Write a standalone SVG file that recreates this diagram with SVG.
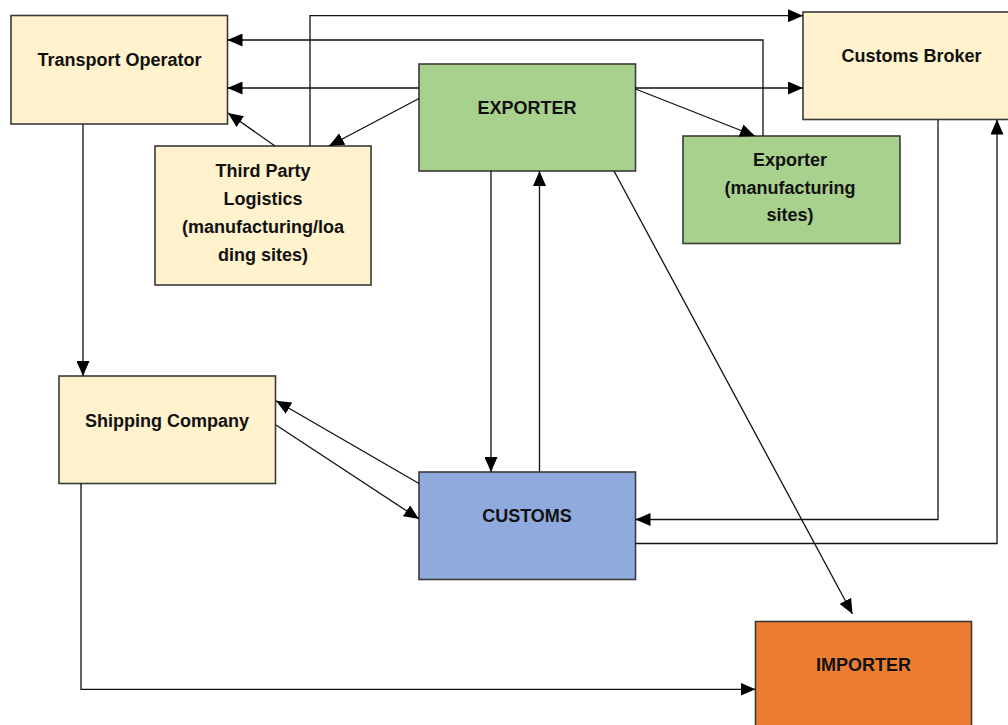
<svg xmlns="http://www.w3.org/2000/svg" width="1008" height="725" viewBox="0 0 1008 725">
<style>
.box{stroke:#3a3a3a;stroke-width:1.6}
.y{fill:#FFF2CC}.g{fill:#A9D18E}.b{fill:#8FAADC}.o{fill:#ED7D31}
text{font-family:"Liberation Sans",Arial,sans-serif;font-weight:bold;font-size:18px;fill:#111;text-anchor:middle}
.c path,.c line,.c polyline{fill:none;stroke:#111;stroke-width:1.3;marker-end:url(#ah)}
</style>
<defs>
<marker id="ah" markerWidth="15" markerHeight="13" refX="15" refY="6.5" orient="auto" markerUnits="userSpaceOnUse">
<path d="M0,0 L15,6.5 L0,13 z" fill="#000"/>
</marker>
</defs>
<rect width="1008" height="725" fill="#fff"/>
<g id="transport-operator"><rect class="box y" x="11" y="15.5" width="216.5" height="108.5"/><text x="119.5" y="65.5">Transport Operator</text></g>
<g id="customs-broker"><rect class="box y" x="803" y="12" width="216" height="107.5"/><text x="911.5" y="61.5">Customs Broker</text></g>
<g id="exporter"><rect class="box g" x="419" y="64" width="216.5" height="107"/><text x="527" y="114">EXPORTER</text></g>
<g id="third-party-logistics"><rect class="box y" x="155" y="146" width="216" height="139"/>
<text x="263" y="177">Third Party</text><text x="263" y="205">Logistics</text><text x="263" y="233">(manufacturing/loa</text><text x="263" y="261">ding sites)</text></g>
<g id="exporter-sites"><rect class="box g" x="683" y="136" width="217" height="107.5"/>
<text x="790" y="166">Exporter</text><text x="790" y="194">(manufacturing</text><text x="790" y="221">sites)</text></g>
<g id="shipping-company"><rect class="box y" x="59" y="376" width="216.5" height="107.5"/><text x="167" y="426.5">Shipping Company</text></g>
<g id="customs"><rect class="box b" x="419" y="472" width="216.5" height="107.5"/><text x="527" y="521.5">CUSTOMS</text></g>
<g id="importer"><rect class="box o" x="755.5" y="621.5" width="216" height="110"/><text x="863.5" y="671">IMPORTER</text></g>
<g id="connectors" class="c">
<polyline points="310,146 310,15.7 803,15.7"/>
<polyline points="763,136 763,40 227.5,40"/>
<line x1="419" y1="88" x2="227.5" y2="88"/>
<line x1="635.5" y1="88" x2="803" y2="88"/>
<line x1="419" y1="98.5" x2="329" y2="146"/>
<line x1="275" y1="146" x2="228" y2="113"/>
<line x1="635.5" y1="89" x2="755" y2="136"/>
<line x1="491" y1="171" x2="491" y2="472"/>
<line x1="539.5" y1="472" x2="539.5" y2="171"/>
<line x1="614" y1="171" x2="852.5" y2="614"/>
<line x1="83" y1="124" x2="83" y2="376"/>
<line x1="419" y1="483.5" x2="276" y2="400.7"/>
<line x1="276" y1="425" x2="419" y2="519"/>
<polyline points="81,483.5 81,689.3 755.5,689.3"/>
<polyline points="938,119.5 938,519.5 635.5,519.5"/>
<polyline points="635.5,543.5 997,543.5 997,119.5"/>
</g>
</svg>
